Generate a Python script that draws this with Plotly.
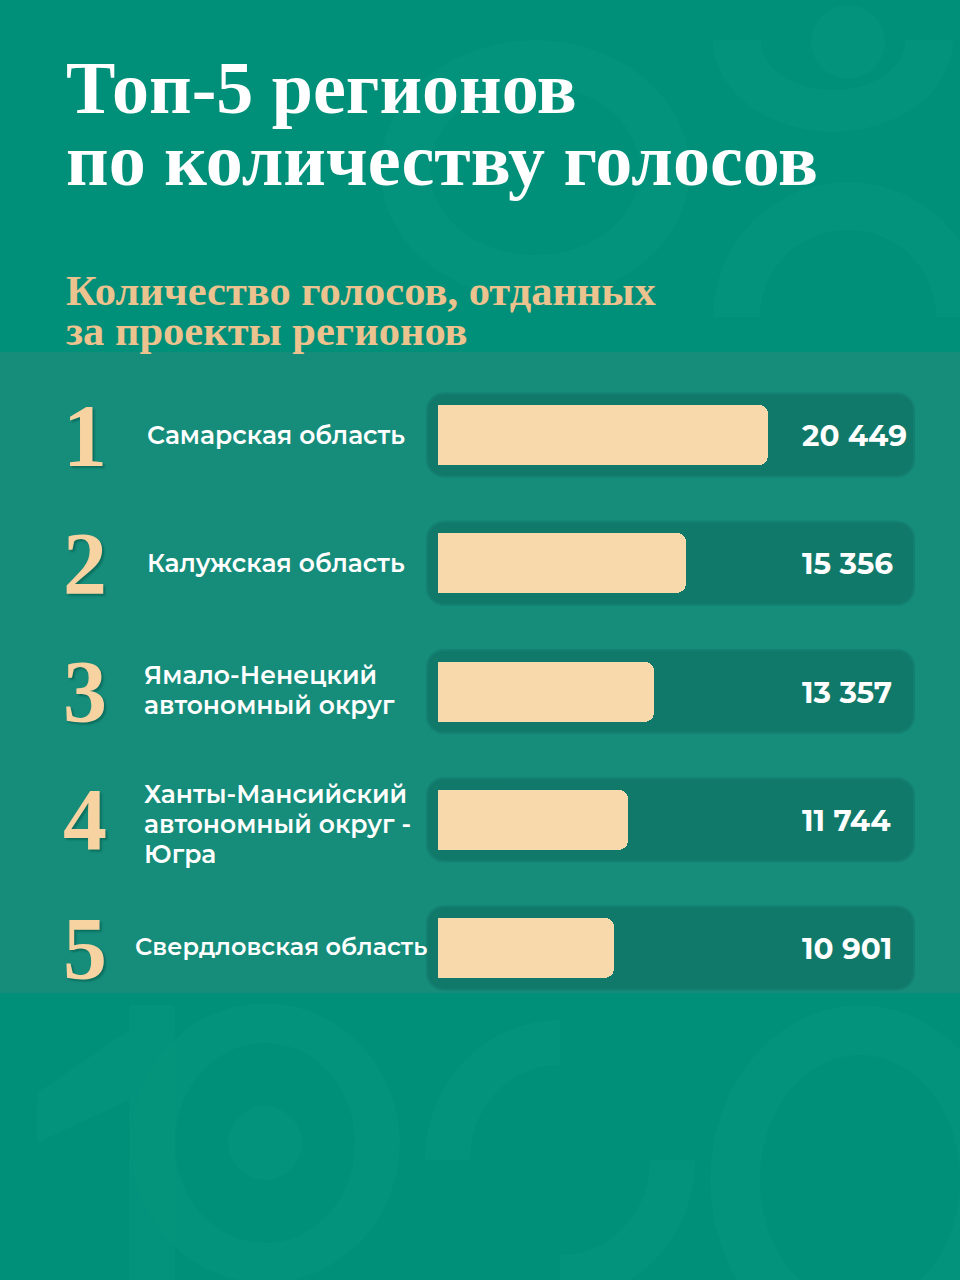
import math
import plotly.graph_objects as go

# ---------------- data ----------------
ranks = ["1", "2", "3", "4", "5"]
regions = [
    "Самарская область",
    "Калужская область",
    "Ямало-Ненецкий<br>автономный округ",
    "Ханты-Мансийский<br>автономный округ -<br>Югра",
    "Свердловская область",
]
votes = [20449, 15356, 13357, 11744, 10901]
vote_labels = ["20 449", "15 356", "13 357", "11 744", "10 901"]

title_lines = ["Топ-5 регионов", "по количеству голосов"]
subtitle_lines = ["Количество голосов, отданных", "за проекты регионов"]

# ---------------- style ----------------
W, H = 960, 1280
BG = "#008f78"
BAND = "#168c7a"
WATER = "#06967d"
TRACK = "#11796a"
TRACK_HALO = "#138071"
BAR = "#f8d9ab"
PEACH = "#ecc28e"
RANKC = "#f6d3a1"
SERIF = "Liberation Serif"
SANS = "Montserrat, Open Sans, sans-serif"


def px(x):
    return x / W


def py(y):
    return 1 - y / H


# axis geometry (pixels)
X0_PX, X1_PX = 438, 913
BAR_MAX_PX = 330
ROW_TOP_PX, ROW_STEP_PX = 435 - 64.125, 128.25
n = len(ranks)
dom_top = py(ROW_TOP_PX)
dom_bot = py(ROW_TOP_PX + n * ROW_STEP_PX)
x_range_max = max(votes) * (X1_PX - X0_PX) / BAR_MAX_PX


def row_center_px(i):
    return ROW_TOP_PX + (i + 0.5) * ROW_STEP_PX


def rrect(x0, y0, x1, y1, r):
    """rounded rect path in paper coords from pixel coords"""
    pts = []
    steps = 6
    corners = [
        (x1 - r, y0 + r, -90, 0),
        (x1 - r, y1 - r, 0, 90),
        (x0 + r, y1 - r, 90, 180),
        (x0 + r, y0 + r, 180, 270),
    ]
    for cx, cy, a0, a1 in corners:
        for k in range(steps + 1):
            a = math.radians(a0 + (a1 - a0) * k / steps)
            pts.append((cx + r * math.cos(a), cy + r * math.sin(a)))
    d = "M " + " L ".join(f"{px(x):.5f},{py(y):.5f}" for x, y in pts) + " Z"
    return d


def ring(cx, cy, rxo, ryo, rxi, ryi, a0, a1, steps=48):
    outer, inner = [], []
    for k in range(steps + 1):
        a = math.radians(a0 + (a1 - a0) * k / steps)
        outer.append((cx + rxo * math.cos(a), cy + ryo * math.sin(a)))
        inner.append((cx + rxi * math.cos(a), cy + ryi * math.sin(a)))
    pts = outer + inner[::-1]
    return "M " + " L ".join(f"{px(x):.5f},{py(y):.5f}" for x, y in pts) + " Z"


def poly(points):
    return "M " + " L ".join(f"{px(x):.5f},{py(y):.5f}" for x, y in points) + " Z"


shapes = []
# faint watermark letters
wm = dict(type="path", fillcolor=WATER, line=dict(width=0), layer="below",
          xref="paper", yref="paper", opacity=0.5)
shapes += [
    dict(path=ring(535, 170, 155, 130, 105, 85, 0, 360), **wm),
    dict(path=ring(833, 40, 120, 92, 72, 50, 0, 180), **wm),
    dict(path=ring(848, 317, 135, 135, 88, 87, 180, 360), **wm),
    dict(type="circle", xref="paper", yref="paper", x0=px(811), x1=px(885),
         y0=py(79), y1=py(5), fillcolor=WATER, line=dict(width=0), layer="below", opacity=0.5),
    # bottom
    dict(path=poly([(129, 1005), (175, 1005), (175, 1280), (129, 1280)]), **wm),
    dict(path=poly([(37, 1093), (129, 1030), (129, 1100), (37, 1143)]), **wm),
    dict(path=ring(265, 1143, 135, 140, 90, 100, 0, 360), **wm),
    dict(path=ring(265, 1143, 37, 37, 0.1, 0.1, 0, 360), **wm),
    dict(path=ring(560, 1160, 135, 140, 90, 95, 180, 270), **wm),
    dict(path=ring(560, 1160, 135, 140, 90, 95, 0, 90), **wm),
    dict(path=ring(860, 1180, 150, 175, 100, 125, 0, 360), **wm),
]
# middle band
shapes.append(dict(type="rect", xref="paper", yref="paper", x0=0, x1=1,
                   y0=py(993), y1=py(352), fillcolor=BAND, line=dict(width=0), layer="below"))
# tracks
for i in range(n):
    c = row_center_px(i)
    shapes.append(dict(type="path", xref="paper", yref="paper",
                       path=rrect(426, c - 42.5, 915, c + 42.5, 18),
                       fillcolor=TRACK_HALO, line=dict(width=0), layer="below"))
    shapes.append(dict(type="path", xref="paper", yref="paper",
                       path=rrect(428, c - 40.5, 913, c + 40.5, 16),
                       fillcolor=TRACK, line=dict(width=0), layer="below"))

fig = go.Figure()
fig.add_trace(go.Bar(
    x=votes, y=ranks, orientation="h",
    marker=dict(color=BAR, cornerradius=9, line=dict(width=0)),
    width=60 / ROW_STEP_PX,
    hoverinfo="skip",
))

annotations = []
# title & subtitle
for t, yc in zip(title_lines, [88, 160]):
    annotations.append(dict(text=f"<b>{t}</b>", x=px(64), y=py(yc), xref="paper", yref="paper",
                            xanchor="left", yanchor="middle", showarrow=False,
                            font=dict(family=SERIF, size=74, color="white")))
for t, yc in zip(subtitle_lines, [290, 330]):
    annotations.append(dict(text=f"<b>{t}</b>", x=px(64), y=py(yc), xref="paper", yref="paper",
                            xanchor="left", yanchor="middle", showarrow=False,
                            font=dict(family=SERIF, size=42.5, color=PEACH)))

label_x = [145, 145, 142, 142, 133]
label_size = [25, 25, 25, 25, 24]
label_shift = [0, 0, 2, -4, 2]
LINE_GAP = 30
for i in range(n):
    # rank numbers; y given as category index
    annotations.append(dict(text=f"<b>{ranks[i]}</b>", x=px(85), y=i, xref="paper", yref="y",
                            xanchor="center", yanchor="middle", showarrow=False,
                            font=dict(family=SERIF, size=88, color=RANKC,
                                      shadow="2px 2px 2px #0b6f5f")))
    lines = regions[i].split("<br>")
    m = len(lines)
    for j, line in enumerate(lines):
        annotations.append(dict(text=line, x=px(label_x[i]), y=i, xref="paper", yref="y",
                                xanchor="left", yanchor="middle", align="left", showarrow=False,
                                yshift=label_shift[i] - (j - (m - 1) / 2) * LINE_GAP,
                                font=dict(family=SANS, size=label_size[i], color="white", weight=600)))
    annotations.append(dict(text=f"<b>{vote_labels[i]}</b>", x=px(800), y=i, xref="paper", yref="y",
                            xanchor="left", yanchor="middle", showarrow=False,
                            font=dict(family=SANS, size=29.5, color="white")))

fig.update_layout(
    width=W, height=H,
    margin=dict(l=0, r=0, t=0, b=0),
    paper_bgcolor=BG, plot_bgcolor="rgba(0,0,0,0)",
    showlegend=False,
    shapes=shapes,
    annotations=annotations,
    xaxis=dict(domain=[px(X0_PX), px(X1_PX)], range=[0, x_range_max], visible=False, fixedrange=True),
    yaxis=dict(domain=[dom_bot, dom_top], range=[n - 0.5, -0.5], type="category",
               visible=False, fixedrange=True),
    bargap=0,
)

fig.write_html("out.html")
